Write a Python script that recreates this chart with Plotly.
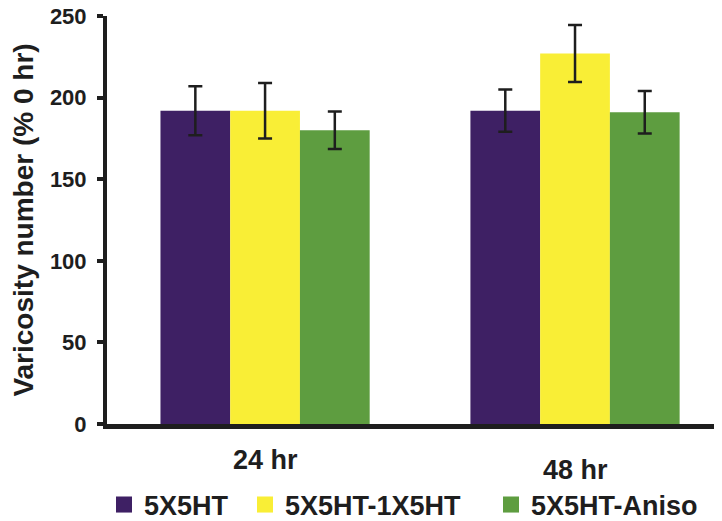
import plotly.graph_objects as go

# varicosity data
times = ['24 hr', '48 hr']
groups = ['5X5HT', '5X5HT-1X5HT', '5X5HT-Aniso']
means = {
    '5X5HT':       [192, 192],
    '5X5HT-1X5HT': [192, 227],
    '5X5HT-Aniso': [180, 191],
}
errs = {
    '5X5HT':       [15, 13],
    '5X5HT-1X5HT': [17, 17.5],
    '5X5HT-Aniso': [11.5, 13],
}
colors = ['#3e2064', '#f9ee36', '#5e9d40']
yticks = [0, 50, 100, 150, 200, 250]

FONT = 'Liberation Sans'
INK = '#1e1e1e'

fig = go.Figure()
for i, g in enumerate(groups):
    fig.add_trace(go.Bar(
        x=times, y=means[g], name=g,
        marker=dict(color=colors[i], line=dict(width=0)),
        error_y=dict(type='data', array=errs[g], color=INK, thickness=2.5, width=7),
        showlegend=False,
    ))
    # legend swatch, one legend per item so the spacing can follow the original
    lg = 'legend' if i == 0 else 'legend%d' % (i + 1)
    fig.add_trace(go.Scatter(
        x=[None], y=[None], mode='markers', name=g, legend=lg,
        marker=dict(symbol='square', size=20, color=colors[i]),
        showlegend=True,
    ))

# page body has an 8px margin, so everything is placed 8px up/left
leg_x = [96, 237, 483]
for i in range(3):
    key = 'legend' if i == 0 else 'legend%d' % (i + 1)
    fig.update_layout({key: dict(
        xref='container', yref='container',
        x=leg_x[i] / 722, y=1 - 497 / 521,
        xanchor='left', yanchor='middle',
        orientation='h', itemsizing='trace',
        font=dict(family=FONT, size=27, color=INK, weight='bold'),
        bgcolor='rgba(0,0,0,0)', borderwidth=0,
    )})

# category labels, 48 hr sits a little lower in the original
lab_y = [-0.088, -0.112]
for t, yy in zip(times, lab_y):
    fig.add_annotation(x=t, y=yy, xref='x', yref='paper', text=t, showarrow=False,
                       yanchor='middle',
                       font=dict(family=FONT, size=27, color=INK, weight='bold'))

fig.update_layout(
    width=722, height=521,
    margin=dict(l=99, r=0, t=8, b=105),
    paper_bgcolor='white', plot_bgcolor='white',
    barmode='group', bargap=0.325, bargroupgap=0,
    font=dict(family=FONT, color=INK),
    xaxis=dict(
        range=[-0.51, 1.5], showticklabels=False, ticks='', automargin=False,
        showline=True, linecolor=INK, linewidth=5, showgrid=False, zeroline=False,
    ),
    yaxis=dict(
        range=[0, 250], tickvals=yticks, ticks='outside', ticklen=6, tickwidth=4,
        tickcolor=INK, showline=True, linecolor=INK, linewidth=4, automargin=False,
        showgrid=False, zeroline=False, ticklabelstandoff=6,
        ticklabeloverflow='allow',
        tickfont=dict(family=FONT, size=22, color=INK, weight='bold'),
        title=dict(text='Varicosity number (% 0 hr)', standoff=24,
                   font=dict(family=FONT, size=28, color=INK, weight='bold')),
    ),
)

fig.write_html('out.html')
